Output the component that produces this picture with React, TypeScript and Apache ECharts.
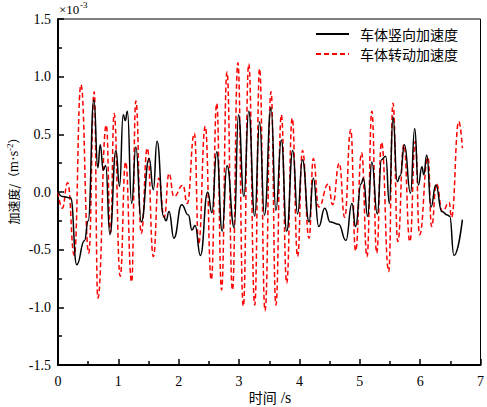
import React, { useEffect, useRef } from "react";
import * as echarts from "echarts";

// 车体竖向加速度 (×10^-3 m·s^-2)
const verticalT = [0, 0.08, 0.21, 0.31, 0.44, 0.5, 0.595, 0.66, 0.7, 0.75, 0.79, 0.86, 0.96, 1.02, 1.08, 1.115, 1.15, 1.22, 1.29, 1.38, 1.51, 1.58, 1.64, 1.75, 1.79, 1.84, 1.92, 2.05, 2.16, 2.22, 2.27, 2.36, 2.48, 2.55, 2.63, 2.72, 2.8, 2.92, 2.99, 3.08, 3.16, 3.26, 3.34, 3.42, 3.53, 3.61, 3.7, 3.79, 3.89, 3.97, 4.05, 4.16, 4.23, 4.32, 4.42, 4.51, 4.65, 4.77, 4.87, 4.93, 5.02, 5.06, 5.13, 5.2, 5.29, 5.36, 5.43, 5.49, 5.55, 5.62, 5.67, 5.74, 5.84, 5.91, 5.97, 6.03, 6.06, 6.11, 6.18, 6.26, 6.36, 6.45, 6.49, 6.56, 6.7];
const verticalV = [0, -0.04, -0.05, -0.63, -0.42, -0.25, 0.8, 0.21, 0.41, 0.19, 0.23, -0.37, 0.36, 0.05, 0.67, 0.62, 0.7, -0.1, 0.39, -0.26, 0.29, 0.02, 0.44, -0.21, -0.25, -0.17, -0.4, -0.11, -0.2, -0.33, -0.29, -0.55, 0.0, -0.18, 0.35, -0.34, 0.23, -0.31, 0.67, -0.04, 0.7, -0.21, 0.61, -0.2, 0.73, -0.16, 0.45, -0.34, 0.36, -0.19, 0.28, -0.26, 0.12, -0.3, -0.14, -0.26, -0.28, -0.42, -0.1, -0.3, 0.07, 0.12, -0.21, 0.26, -0.19, 0.28, 0.31, -0.1, 0.65, 0.09, 0.14, 0.41, -0.01, 0.55, 0.06, 0.22, 0.15, 0.32, -0.13, 0.06, -0.17, -0.2, -0.21, -0.55, -0.24];

// 车体转动加速度
const rotationT = [0, 0.07, 0.16, 0.27, 0.38, 0.51, 0.6, 0.66, 0.8, 0.87, 0.93, 1.03, 1.12, 1.22, 1.29, 1.38, 1.48, 1.58, 1.67, 1.76, 1.84, 1.92, 2.07, 2.14, 2.26, 2.33, 2.44, 2.54, 2.63, 2.71, 2.8, 2.89, 2.98, 3.07, 3.16, 3.26, 3.34, 3.43, 3.53, 3.61, 3.7, 3.79, 3.88, 3.97, 4.05, 4.16, 4.23, 4.32, 4.48, 4.55, 4.66, 4.75, 4.85, 4.93, 5.03, 5.12, 5.2, 5.28, 5.36, 5.48, 5.55, 5.63, 5.73, 5.83, 5.92, 5.99, 6.13, 6.19, 6.27, 6.37, 6.48, 6.52, 6.64, 6.7];
const rotationV = [0, -0.14, 0.08, -0.55, 0.93, -0.53, 0.87, -0.92, 0.58, -0.35, 0.68, -0.73, 0.26, -0.78, 0.79, -0.36, 0.38, -0.56, 0.12, -0.22, 0.16, -0.04, 0.06, -0.1, 0.51, -0.45, 0.57, -0.76, 0.77, -0.85, 1.04, -0.85, 1.12, -0.99, 1.11, -0.98, 1.07, -1.03, 0.87, -0.98, 0.67, -0.79, 0.64, -0.56, 0.36, -0.4, 0.29, -0.13, 0.07, -0.11, 0.25, -0.22, 0.54, -0.51, 0.34, -0.56, 0.7, -0.53, 0.43, -0.69, 0.77, -0.43, 0.41, -0.43, 0.44, -0.37, 0.3, -0.3, 0.07, -0.17, -0.09, -0.22, 0.61, 0.38];

const seriesNames = ["车体竖向加速度", "车体转动加速度"];
const xTickMin = 0;
const xTickMax = 7;
const yTickMin = -1.5;
const yTickMax = 1.5;

const serif = "'Liberation Serif', 'Times New Roman', serif";
const cjk = "'Noto Sans CJK SC', 'Liberation Serif', sans-serif";

export default function App() {
  const ref = useRef<HTMLDivElement>(null);
  useEffect(() => {
    if (!ref.current) return;
    const chart = echarts.init(ref.current, null, { renderer: "svg" });
    const zip = (t: number[], v: number[]) => t.map((x, i) => [x, v[i]]);
    chart.setOption({
      animation: false,
      backgroundColor: "#fff",
      grid: {
        left: 58,
        top: 19,
        width: 427,
        height: 346,
        show: true,
        borderColor: "#000",
        borderWidth: 1,
        backgroundColor: "transparent",
      },
      legend: {
        orient: "vertical",
        left: 310,
        top: 19,
        itemWidth: 33,
        itemHeight: 12,
        itemGap: 0,
        data: seriesNames,
        itemStyle: { opacity: 0 },
        textStyle: {
          fontFamily: cjk,
          fontSize: 14,
          lineHeight: 20,
          color: "#000",
          padding: [0, 0, 0, 6],
        },
      },
      xAxis: {
        type: "value",
        min: xTickMin,
        max: xTickMax,
        interval: 1,
        axisLine: { show: true, onZero: false, lineStyle: { color: "#000", width: 2 } },
        axisTick: { show: true, inside: true, length: 6, lineStyle: { color: "#000", width: 1.5 } },
        minorTick: { show: true, splitNumber: 2, length: 4, lineStyle: { color: "#000", width: 1.5 } },
        splitLine: { show: false },
        axisLabel: { color: "#000", fontFamily: serif, fontSize: 14, margin: 9 },
      },
      yAxis: {
        type: "value",
        min: yTickMin,
        max: yTickMax,
        interval: 0.5,
        axisLine: { show: true, onZero: false, lineStyle: { color: "#000", width: 2 } },
        axisTick: { show: true, inside: true, length: 6, lineStyle: { color: "#000", width: 1.5 } },
        minorTick: { show: true, splitNumber: 2, length: 4, lineStyle: { color: "#000", width: 1.5 } },
        splitLine: { show: false },
        axisLabel: {
          color: "#000",
          fontFamily: serif,
          fontSize: 14,
          margin: 7,
          formatter: (v: number) => v.toFixed(1),
        },
      },
      graphic: [
        {
          type: "text",
          left: 59,
          top: 3,
          style: { text: "×10", font: `13px ${serif}`, fill: "#000" },
        },
        {
          type: "text",
          left: 80,
          top: 0,
          style: { text: "-3", font: `9px ${serif}`, fill: "#000" },
        },
        {
          type: "text",
          x: 13,
          y: 178,
          rotation: Math.PI / 2,
          style: {
            text: "{c|加速度/（}{s|m·s}{p|-2}{c|）}",
            fill: "#000",
            align: "center",
            verticalAlign: "middle",
            rich: {
              c: { fontFamily: cjk, fontSize: 12, fill: "#000" },
              s: { fontFamily: serif, fontSize: 14, fill: "#000" },
              p: { fontFamily: serif, fontSize: 9, fill: "#000", verticalAlign: "top", padding: [0, 0, 6, 0] },
            },
          },
        },
        {
          type: "text",
          x: 270,
          y: 397,
          style: {
            text: "{c|时间}{s| /s}",
            fill: "#000",
            align: "center",
            verticalAlign: "middle",
            rich: {
              c: { fontFamily: cjk, fontSize: 14, fill: "#000" },
              s: { fontFamily: serif, fontSize: 16, fill: "#000" },
            },
          },
        },
      ],
      series: [
        {
          name: seriesNames[0],
          type: "line",
          data: zip(verticalT, verticalV),
          symbol: "none",
          smooth: 0.5,
          smoothMonotone: "x",
          lineStyle: { color: "#000", width: 1.5 },
          itemStyle: { color: "#000" },
          z: 3,
        },
        {
          name: seriesNames[1],
          type: "line",
          data: zip(rotationT, rotationV),
          symbol: "none",
          smooth: 0.5,
          smoothMonotone: "x",
          lineStyle: { color: "#ff0000", width: 1.5, type: [5, 3] },
          itemStyle: { color: "#ff0000" },
          z: 2,
        },
      ],
    });
    return () => chart.dispose();
  }, []);
  return <div ref={ref} style={{ width: 487, height: 407, position: "absolute", left: 0, top: 0 }} />;
}
